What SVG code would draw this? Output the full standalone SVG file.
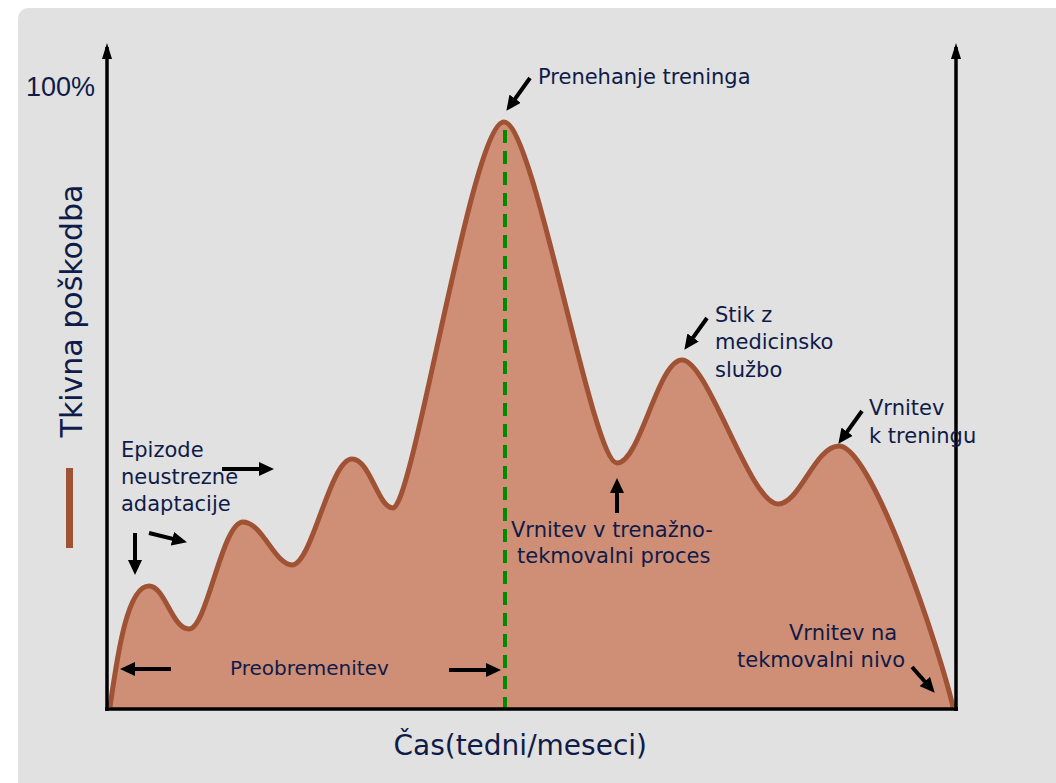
<svg xmlns="http://www.w3.org/2000/svg" width="1056" height="783" viewBox="0 0 1056 783">
  <defs>
    <marker id="ah" markerUnits="userSpaceOnUse" markerWidth="15" markerHeight="14" refX="10" refY="7" orient="auto">
      <path d="M0,0 L15,7 L0,14 Z" fill="#000"/>
    </marker>
    <marker id="axh" markerUnits="userSpaceOnUse" markerWidth="16" markerHeight="10" refX="12" refY="5" orient="auto">
      <path d="M0,0 L16,5 L0,10 Z" fill="#000"/>
    </marker>
    <style>
      .lbl { font-family: "DejaVu Sans", Verdana, sans-serif; font-size: 21px; fill: #0f1b48; }
      .arr { stroke: #000; stroke-width: 4; fill: none; marker-end: url(#ah); }
      .axis { stroke: #000; stroke-width: 3.5; fill: none; }
    </style>
  </defs>

  <rect x="0" y="0" width="1056" height="783" fill="#ffffff"/>
  <rect x="18" y="8" width="1050" height="785" rx="10" fill="#e1e1e1"/>

  <g id="curve">
    <path d="M110,707 C118,650 128,586 149,586 C165,586 172,629 189,629 C207,629 222,522 243,522 C262,522 275,565 292,565 C312,565 330,459 352,459 C370,459 378,508 393,508 C413,508 472,122 504,122 C534,122 592,463 617,463 C640,463 658,360 682,360 C708,360 750,504 778,504 C800,504 815,446 839,446 C872,446 940,650 953,707 L953,709 L110,709 Z" fill="#cf8e76" stroke="none"/>
    <line id="peak-line" x1="505" y1="130" x2="505" y2="708" stroke="#008a00" stroke-width="4" stroke-dasharray="13 8"/>
    <path d="M110,707 C118,650 128,586 149,586 C165,586 172,629 189,629 C207,629 222,522 243,522 C262,522 275,565 292,565 C312,565 330,459 352,459 C370,459 378,508 393,508 C413,508 472,122 504,122 C534,122 592,463 617,463 C640,463 658,360 682,360 C708,360 750,504 778,504 C800,504 815,446 839,446 C872,446 940,650 953,707" fill="none" stroke="#a05234" stroke-width="5"/>
  </g>

  <g id="axes">
    <line class="axis" x1="107" y1="711" x2="107" y2="47" marker-end="url(#axh)"/>
    <line class="axis" x1="956" y1="711" x2="956" y2="47" marker-end="url(#axh)"/>
    <line class="axis" x1="105" y1="709" x2="958" y2="709" stroke-width="4"/>
  </g>

  <g id="legend">
    <rect x="66" y="468" width="7" height="80" fill="#a05234"/>
    <text transform="translate(82,311) rotate(-90)" text-anchor="middle" style="font-family:'DejaVu Sans',Verdana,sans-serif;font-size:30px;fill:#0f1b48">Tkivna poškodba</text>
    <text x="26" y="96" style="font-family:'Liberation Sans',Arial,sans-serif;font-size:27px;fill:#0f1b48">100%</text>
    <text x="647" y="755" text-anchor="end" style="font-family:'DejaVu Sans',Verdana,sans-serif;font-size:28px;fill:#0f1b48">Čas(tedni/meseci)</text>
  </g>

  <g id="connectors">
    <line class="arr" x1="530" y1="78" x2="509.3" y2="106.8"/>
    <line class="arr" x1="707" y1="318" x2="687.3" y2="345.7"/>
    <line class="arr" x1="862" y1="411" x2="841.3" y2="439.8"/>
    <line class="arr" x1="617" y1="513" x2="617" y2="483"/>
    <line class="arr" x1="912" y1="667" x2="931.4" y2="689"/>
    <line class="arr" x1="222" y1="469" x2="269" y2="469"/>
    <line class="arr" x1="135" y1="533" x2="135" y2="570"/>
    <line class="arr" x1="149" y1="533" x2="182.1" y2="541.1"/>
    <line class="arr" x1="171" y1="669" x2="125" y2="669"/>
    <line class="arr" x1="449" y1="670" x2="496" y2="670"/>
  </g>

  <g id="label-prenehanje">
    <text class="lbl" x="538" y="84">Prenehanje treninga</text>
  </g>
  <g id="label-stik">
    <text class="lbl" x="715" y="322">Stik z</text>
    <text class="lbl" x="715" y="349">medicinsko</text>
    <text class="lbl" x="715" y="377">službo</text>
  </g>
  <g id="label-vrnitev-trening">
    <text class="lbl" x="869" y="415">Vrnitev</text>
    <text class="lbl" x="869" y="443">k treningu</text>
  </g>
  <g id="label-vrnitev-proces">
    <text class="lbl" x="511" y="537">Vrnitev v trenažno-</text>
    <text class="lbl" x="517" y="563">tekmovalni proces</text>
  </g>
  <g id="label-vrnitev-nivo">
    <text class="lbl" x="789" y="640">Vrnitev na</text>
    <text class="lbl" x="737" y="667">tekmovalni nivo</text>
  </g>
  <g id="label-epizode">
    <text class="lbl" x="121" y="457">Epizode</text>
    <text class="lbl" x="121" y="484">neustrezne</text>
    <text class="lbl" x="121" y="511">adaptacije</text>
  </g>
  <g id="label-preobremenitev">
    <text class="lbl" x="230" y="675" style="font-size:20px">Preobremenitev</text>
  </g>
</svg>
